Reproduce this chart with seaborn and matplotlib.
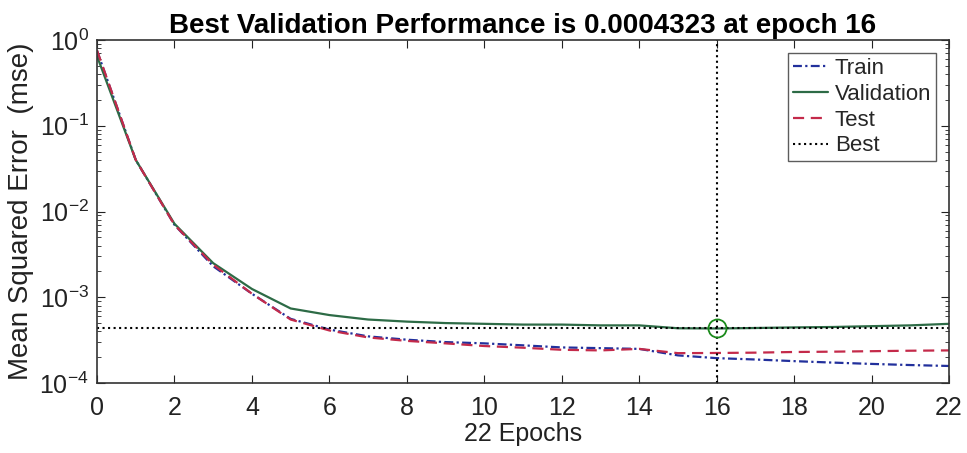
import matplotlib
matplotlib.use('Agg')
import matplotlib.pyplot as plt
import numpy as np
import pandas as pd
import seaborn as sns

# performance per epoch (mse)
epochs=list(range(23))
train=[0.75,0.04,0.0070,0.0023,0.0011,0.00056,0.00042,0.00035,0.00032,0.00030,0.00029,
       0.000275,0.00026,0.000255,0.00025,0.00021,0.000195,0.000188,0.00018,0.000173,0.000167,0.000162,0.000158]
valid=[0.65,0.04,0.0072,0.0025,0.00125,0.00074,0.00062,0.00055,0.00052,0.00050,0.00049,
       0.00048,0.00048,0.00047,0.00047,0.000435,0.0004323,0.000438,0.000445,0.00045,0.00046,0.00047,0.00049]
test=[0.76,0.04,0.0070,0.0024,0.0011,0.00055,0.00041,0.00034,0.00031,0.00029,0.00027,
      0.000258,0.000244,0.00024,0.00025,0.000223,0.000224,0.000226,0.00023,0.000232,0.000235,0.000238,0.00024]
best_epoch=16
best_val=0.0004323

df=pd.DataFrame({'epoch':epochs,'Train':train,'Validation':valid,'Test':test})

sns.set_style('ticks')
plt.rcParams['font.family']=['Liberation Sans','DejaVu Sans']
plt.rcParams['axes.unicode_minus']=False

fig=plt.figure(figsize=(9.67,4.53),dpi=100)
ax=fig.add_axes([0.1003,0.1545,0.8811,0.7572])

sns.lineplot(data=df,x='epoch',y='Train',ax=ax,color='#22309c',linestyle=(0,(4,1.5,1,1.5)),lw=1.6,label='Train')
sns.lineplot(data=df,x='epoch',y='Validation',ax=ax,color='#2d6b46',linestyle='-',lw=1.6,label='Validation')
sns.lineplot(data=df,x='epoch',y='Test',ax=ax,color='#c42a4a',linestyle=(0,(5,3)),lw=1.6,label='Test')
ax.axhline(best_val,color='black',linestyle=':',lw=1.5,label='Best')
ax.axvline(best_epoch,color='black',linestyle=':',lw=1.5)
ax.plot([best_epoch],[best_val],'o',mfc='none',mec='#1a8a1a',ms=13,mew=1.3)

ax.set_yscale('log')
ax.set_xlim(0,22)
ax.set_ylim(1e-4,1)
ax.set_xticks(range(0,23,2))
ax.tick_params(which='both',direction='in',top=True,right=True,labelsize=18,colors='#222222',pad=6)
ax.tick_params(axis='x',pad=9)
ax.tick_params(which='major',length=6)
ax.tick_params(which='minor',length=3)
ax.tick_params(axis='x',which='minor',bottom=False,top=False)
for s in ax.spines.values():
    s.set_color('#333333')
    s.set_linewidth(1.2)

ax.set_xlabel('22 Epochs',fontsize=18,labelpad=2,color='#222222')
ax.set_ylabel('Mean Squared Error  (mse)',fontsize=20,labelpad=4,color='#222222')
ax.set_title('Best Validation Performance is 0.0004323 at epoch 16',fontsize=20,fontweight='bold',pad=5,color='black')

leg=ax.legend(loc='upper right',fontsize=16,frameon=True,fancybox=False,edgecolor='#333333',
              handlelength=1.6,handletextpad=0.3,borderpad=0.2,labelspacing=0.22,borderaxespad=0.6)
leg.get_frame().set_linewidth(1.0)

fig.savefig('out.png',dpi=100)
